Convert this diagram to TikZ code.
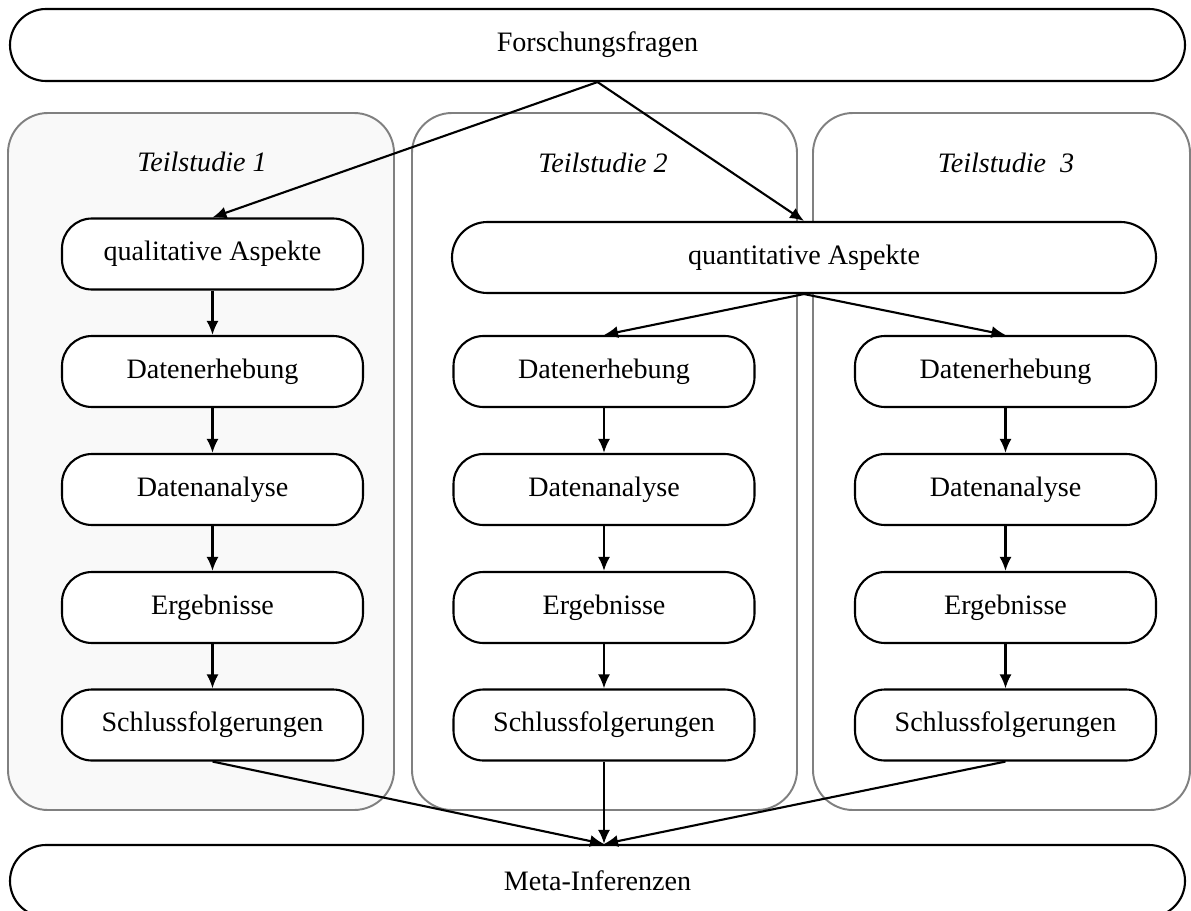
\documentclass[tikz,border=0pt]{standalone}
\usepackage{fontspec}
\setmainfont{Liberation Serif}
\usetikzlibrary{arrows.meta,shapes.misc}

\definecolor{panelgray}{RGB}{128,128,128}
\definecolor{panelfill}{RGB}{249,249,249}

\tikzset{
    stage/.style={draw, line width=1.2pt, fill=white, rounded corners=0.6cm,
        minimum width=6.02cm, minimum height=1.42cm, inner sep=0pt,
        font=\fontsize{16}{19}\selectfont},
    pill/.style={draw, line width=1.2pt, fill=white, rounded rectangle,
        minimum height=1.44cm, inner sep=0pt, font=\fontsize{16}{19}\selectfont},
    panel/.style={draw=panelgray, line width=1.1pt, rounded corners=0.8cm},
    studytitle/.style={font=\fontsize{16}{19}\selectfont\itshape},
    flow/.style={->, line width=1.2pt},
}

\begin{document}
\begin{tikzpicture}[>={Latex[length=2.8mm,width=2.4mm]}]
        \useasboundingbox (0, 0) rectangle (23.82, -18.22);

        % Teilstudien
        \draw[panel, fill=panelfill] (0.16, -2.26) rectangle (7.88, -16.2);
        \draw[panel, fill=white] (8.24, -2.26) rectangle (15.94, -16.2);
        \draw[panel, fill=white] (16.26, -2.26) rectangle (23.8, -16.2);

        \node[studytitle] (lab1) at (4.04, -3.24) {Teilstudie 1};
        \node[studytitle] (lab2) at (12.06, -3.26) {Teilstudie 2};
        \node[studytitle] (lab3) at (20.12, -3.26) {Teilstudie\ \ 3};

        \node[pill, minimum width=23.5cm] (fragen) at (11.95, -0.9) {Forschungsfragen};
        \node[pill, minimum width=23.5cm] (meta) at (11.95, -17.62) {Meta-Inferenzen};

        % qualitativ
        \node[stage] (qual) at (4.25, -5.08) {qualitative Aspekte};
        \node[stage] (erh1) at (4.25, -7.43) {Datenerhebung};
        \node[stage] (ana1) at (4.25, -9.79) {Datenanalyse};
        \node[stage] (erg1) at (4.25, -12.15) {Ergebnisse};
        \node[stage] (sch1) at (4.25, -14.5) {Schlussfolgerungen};

        % quantitativ
        \node[pill, minimum width=14.08cm, minimum height=1.42cm] (quant) at (16.08, -5.15) {quantitative Aspekte};
        \node[stage] (erh2) at (12.08, -7.43) {Datenerhebung};
        \node[stage] (ana2) at (12.08, -9.79) {Datenanalyse};
        \node[stage] (erg2) at (12.08, -12.15) {Ergebnisse};
        \node[stage] (sch2) at (12.08, -14.5) {Schlussfolgerungen};

        \node[stage] (erh3) at (20.11, -7.43) {Datenerhebung};
        \node[stage] (ana3) at (20.11, -9.79) {Datenanalyse};
        \node[stage] (erg3) at (20.11, -12.15) {Ergebnisse};
        \node[stage] (sch3) at (20.11, -14.5) {Schlussfolgerungen};

        \draw[flow] (fragen.south) -- (qual.north);
        \draw[flow] (fragen.south) -- (quant.north);
        \draw[flow] (quant.south) -- (erh2.north);
        \draw[flow] (quant.south) -- (erh3.north);

        \draw[flow] (qual) -- (erh1);
        \draw[flow] (erh1) -- (ana1);
        \draw[flow] (ana1) -- (erg1);
        \draw[flow] (erg1) -- (sch1);

        \draw[flow] (erh2) -- (ana2);
        \draw[flow] (ana2) -- (erg2);
        \draw[flow] (erg2) -- (sch2);

        \draw[flow] (erh3) -- (ana3);
        \draw[flow] (ana3) -- (erg3);
        \draw[flow] (erg3) -- (sch3);

        \coordinate (join) at (sch2 |- meta.north);
        \draw[flow] (sch1.south) -- (join);
        \draw[flow] (sch2.south) -- (join);
        \draw[flow] (sch3.south) -- (join);
    \end{tikzpicture}
\end{document}
